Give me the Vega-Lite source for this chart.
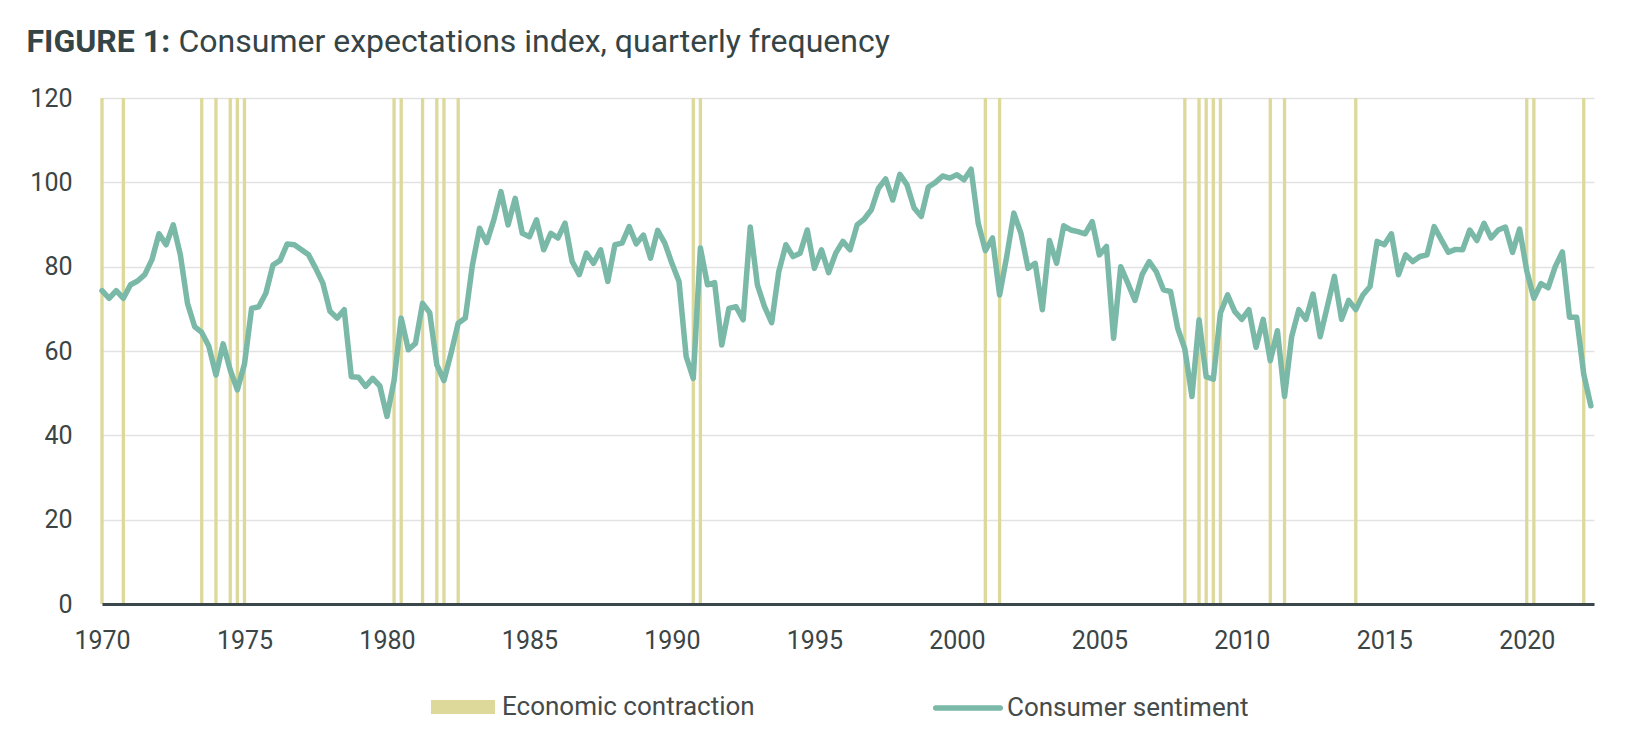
{
  "$schema": "https://vega.github.io/schema/vega-lite/v6.json",
  "width": 1492,
  "height": 506,
  "autosize": {"type": "none"},
  "padding": {"left": 102, "top": 98, "right": 50, "bottom": 130},
  "background": "white",
  "config": {"font": "Roboto", "view": {"stroke": null}},
  "datasets": {
    "contraction": [
      {"t": 1970}, {"t": 1970.75}, {"t": 1973.5}, {"t": 1974}, {"t": 1974.5}, {"t": 1974.75}, {"t": 1975},
      {"t": 1980.25}, {"t": 1980.5}, {"t": 1981.25}, {"t": 1981.75}, {"t": 1982}, {"t": 1982.5},
      {"t": 1990.75}, {"t": 1991}, {"t": 2001}, {"t": 2001.5},
      {"t": 2008}, {"t": 2008.5}, {"t": 2008.75}, {"t": 2009}, {"t": 2009.25},
      {"t": 2011}, {"t": 2011.5}, {"t": 2014}, {"t": 2020}, {"t": 2020.25}, {"t": 2022}
    ],
    "sentiment": [
      {"t": 1970, "v": 74.3}, {"t": 1970.25, "v": 72.5}, {"t": 1970.5, "v": 74.3}, {"t": 1970.75, "v": 72.5},
      {"t": 1971, "v": 75.7}, {"t": 1971.25, "v": 76.6}, {"t": 1971.5, "v": 78.1}, {"t": 1971.75, "v": 81.6},
      {"t": 1972, "v": 87.8}, {"t": 1972.25, "v": 85.2}, {"t": 1972.5, "v": 89.9}, {"t": 1972.75, "v": 82.8},
      {"t": 1973, "v": 71.3}, {"t": 1973.25, "v": 65.8}, {"t": 1973.5, "v": 64.4}, {"t": 1973.75, "v": 61.1},
      {"t": 1974, "v": 54.3}, {"t": 1974.25, "v": 61.7}, {"t": 1974.5, "v": 55.5}, {"t": 1974.75, "v": 50.8},
      {"t": 1975, "v": 56.9}, {"t": 1975.25, "v": 70.1}, {"t": 1975.5, "v": 70.5}, {"t": 1975.75, "v": 73.7},
      {"t": 1976, "v": 80.4}, {"t": 1976.25, "v": 81.5}, {"t": 1976.5, "v": 85.4}, {"t": 1976.75, "v": 85.2},
      {"t": 1977, "v": 84.0}, {"t": 1977.25, "v": 82.8}, {"t": 1977.5, "v": 79.6}, {"t": 1977.75, "v": 76.1},
      {"t": 1978, "v": 69.4}, {"t": 1978.25, "v": 67.8}, {"t": 1978.5, "v": 69.8}, {"t": 1978.75, "v": 53.9},
      {"t": 1979, "v": 53.8}, {"t": 1979.25, "v": 51.6}, {"t": 1979.5, "v": 53.5}, {"t": 1979.75, "v": 51.7},
      {"t": 1980, "v": 44.5}, {"t": 1980.25, "v": 53.0}, {"t": 1980.5, "v": 67.8}, {"t": 1980.75, "v": 60.3},
      {"t": 1981, "v": 61.8}, {"t": 1981.25, "v": 71.3}, {"t": 1981.5, "v": 69.1}, {"t": 1981.75, "v": 56.7},
      {"t": 1982, "v": 53.0}, {"t": 1982.25, "v": 59.5}, {"t": 1982.5, "v": 66.6}, {"t": 1982.75, "v": 67.8},
      {"t": 1983, "v": 80.4}, {"t": 1983.25, "v": 89.1}, {"t": 1983.5, "v": 85.7}, {"t": 1983.75, "v": 91.1},
      {"t": 1984, "v": 97.8}, {"t": 1984.25, "v": 89.9}, {"t": 1984.5, "v": 96.2}, {"t": 1984.75, "v": 87.9},
      {"t": 1985, "v": 87.1}, {"t": 1985.25, "v": 91.1}, {"t": 1985.5, "v": 84.0}, {"t": 1985.75, "v": 87.9},
      {"t": 1986, "v": 86.8}, {"t": 1986.25, "v": 90.3}, {"t": 1986.5, "v": 81.2}, {"t": 1986.75, "v": 78.1},
      {"t": 1987, "v": 83.2}, {"t": 1987.25, "v": 80.8}, {"t": 1987.5, "v": 84.0}, {"t": 1987.75, "v": 76.5},
      {"t": 1988, "v": 85.2}, {"t": 1988.25, "v": 85.6}, {"t": 1988.5, "v": 89.5}, {"t": 1988.75, "v": 85.4},
      {"t": 1989, "v": 87.5}, {"t": 1989.25, "v": 82.0}, {"t": 1989.5, "v": 88.6}, {"t": 1989.75, "v": 85.6},
      {"t": 1990, "v": 80.8}, {"t": 1990.25, "v": 76.5}, {"t": 1990.5, "v": 58.7}, {"t": 1990.75, "v": 53.5},
      {"t": 1991, "v": 84.4}, {"t": 1991.25, "v": 75.7}, {"t": 1991.5, "v": 76.2}, {"t": 1991.75, "v": 61.4},
      {"t": 1992, "v": 70.1}, {"t": 1992.25, "v": 70.5}, {"t": 1992.5, "v": 67.4}, {"t": 1992.75, "v": 89.4},
      {"t": 1993, "v": 75.7}, {"t": 1993.25, "v": 70.5}, {"t": 1993.5, "v": 66.7}, {"t": 1993.75, "v": 78.8},
      {"t": 1994, "v": 85.2}, {"t": 1994.25, "v": 82.4}, {"t": 1994.5, "v": 83.2}, {"t": 1994.75, "v": 88.7},
      {"t": 1995, "v": 79.6}, {"t": 1995.25, "v": 84.0}, {"t": 1995.5, "v": 78.6}, {"t": 1995.75, "v": 83.2},
      {"t": 1996, "v": 86.0}, {"t": 1996.25, "v": 84.0}, {"t": 1996.5, "v": 89.9}, {"t": 1996.75, "v": 91.3},
      {"t": 1997, "v": 93.5}, {"t": 1997.25, "v": 98.6}, {"t": 1997.5, "v": 100.8}, {"t": 1997.75, "v": 95.8},
      {"t": 1998, "v": 101.9}, {"t": 1998.25, "v": 99.4}, {"t": 1998.5, "v": 93.9}, {"t": 1998.75, "v": 91.9},
      {"t": 1999, "v": 98.9}, {"t": 1999.25, "v": 100.0}, {"t": 1999.5, "v": 101.5}, {"t": 1999.75, "v": 101.0},
      {"t": 2000, "v": 101.8}, {"t": 2000.25, "v": 100.6}, {"t": 2000.5, "v": 103.1}, {"t": 2000.75, "v": 90.3},
      {"t": 2001, "v": 83.8}, {"t": 2001.25, "v": 86.8}, {"t": 2001.5, "v": 73.3}, {"t": 2001.75, "v": 82.4},
      {"t": 2002, "v": 92.7}, {"t": 2002.25, "v": 87.9}, {"t": 2002.5, "v": 79.6}, {"t": 2002.75, "v": 80.8},
      {"t": 2003, "v": 69.8}, {"t": 2003.25, "v": 86.2}, {"t": 2003.5, "v": 80.8}, {"t": 2003.75, "v": 89.7},
      {"t": 2004, "v": 88.7}, {"t": 2004.25, "v": 88.3}, {"t": 2004.5, "v": 87.8}, {"t": 2004.75, "v": 90.7},
      {"t": 2005, "v": 82.8}, {"t": 2005.25, "v": 84.8}, {"t": 2005.5, "v": 63.0}, {"t": 2005.75, "v": 80.0},
      {"t": 2006, "v": 76.1}, {"t": 2006.25, "v": 72.0}, {"t": 2006.5, "v": 78.1}, {"t": 2006.75, "v": 81.2},
      {"t": 2007, "v": 78.8}, {"t": 2007.25, "v": 74.5}, {"t": 2007.5, "v": 74.1}, {"t": 2007.75, "v": 65.4},
      {"t": 2008, "v": 60.5}, {"t": 2008.25, "v": 49.2}, {"t": 2008.5, "v": 67.4}, {"t": 2008.75, "v": 53.9},
      {"t": 2009, "v": 53.3}, {"t": 2009.25, "v": 69.0}, {"t": 2009.5, "v": 73.3}, {"t": 2009.75, "v": 69.4},
      {"t": 2010, "v": 67.5}, {"t": 2010.25, "v": 69.8}, {"t": 2010.5, "v": 60.9}, {"t": 2010.75, "v": 67.5},
      {"t": 2011, "v": 57.7}, {"t": 2011.25, "v": 64.8}, {"t": 2011.5, "v": 49.2}, {"t": 2011.75, "v": 63.4},
      {"t": 2012, "v": 69.8}, {"t": 2012.25, "v": 67.5}, {"t": 2012.5, "v": 73.5}, {"t": 2012.75, "v": 63.4},
      {"t": 2013, "v": 70.5}, {"t": 2013.25, "v": 77.7}, {"t": 2013.5, "v": 67.5}, {"t": 2013.75, "v": 72.0},
      {"t": 2014, "v": 69.8}, {"t": 2014.25, "v": 73.3}, {"t": 2014.5, "v": 75.3}, {"t": 2014.75, "v": 86.0},
      {"t": 2015, "v": 85.2}, {"t": 2015.25, "v": 87.8}, {"t": 2015.5, "v": 78.1}, {"t": 2015.75, "v": 82.8},
      {"t": 2016, "v": 81.2}, {"t": 2016.25, "v": 82.4}, {"t": 2016.5, "v": 82.8}, {"t": 2016.75, "v": 89.5},
      {"t": 2017, "v": 86.4}, {"t": 2017.25, "v": 83.4}, {"t": 2017.5, "v": 84.1}, {"t": 2017.75, "v": 84.0},
      {"t": 2018, "v": 88.7}, {"t": 2018.25, "v": 86.2}, {"t": 2018.5, "v": 90.3}, {"t": 2018.75, "v": 86.8},
      {"t": 2019, "v": 88.7}, {"t": 2019.25, "v": 89.4}, {"t": 2019.5, "v": 83.4}, {"t": 2019.75, "v": 88.9},
      {"t": 2020, "v": 79.0}, {"t": 2020.25, "v": 72.5}, {"t": 2020.5, "v": 76.0}, {"t": 2020.75, "v": 75.0},
      {"t": 2021, "v": 80.0}, {"t": 2021.25, "v": 83.5}, {"t": 2021.5, "v": 68.0}, {"t": 2021.75, "v": 68.0},
      {"t": 2022, "v": 54.5}, {"t": 2022.25, "v": 47.0}
    ]
  },
  "encoding": {
    "x": {
      "field": "t",
      "type": "quantitative",
      "scale": {"domain": [1970, 2022.36], "nice": false, "zero": false},
      "axis": {
        "values": [1970, 1975, 1980, 1985, 1990, 1995, 2000, 2005, 2010, 2015, 2020],
        "format": "d",
        "grid": false,
        "ticks": false,
        "domainColor": "#3b474a",
        "domainWidth": 3,
        "labelFontSize": 25,
        "labelColor": "#3b4545",
        "labelPadding": 24,
        "labelFlush": false,
        "zindex": 1,
        "title": "Consumer expectations index, quarterly frequency",
        "titleAngle": 0,
        "titleAlign": "left",
        "titleBaseline": "alphabetic",
        "titleX": 76,
        "titleY": -553,
        "titleFontSize": 32,
        "titleFontWeight": "normal",
        "titleColor": "#354446",
        "titleLimit": 2000
      }
    }
  },
  "layer": [
    {
      "data": {"name": "contraction"},
      "mark": {"type": "rule", "strokeWidth": 3.3},
      "encoding": {
        "y": {
          "datum": 0,
          "type": "quantitative",
          "scale": {"domain": [0, 120], "nice": false},
          "axis": {
            "values": [0, 20, 40, 60, 80, 100, 120],
            "grid": true,
            "gridColor": "#e2e2e2",
            "gridWidth": 1.5,
            "domain": false,
            "ticks": false,
            "labelFontSize": 25,
            "labelColor": "#3b4545",
            "labelPadding": 30,
            "title": "FIGURE 1:",
            "titleAngle": 0,
            "titleAlign": "left",
            "titleBaseline": "alphabetic",
            "titleX": -76,
            "titleY": -47,
            "titleFontSize": 32,
            "titleFontWeight": "bold",
            "titleColor": "#354446",
            "titleLimit": 2000
          }
        },
        "y2": {"datum": 120},
        "color": {
          "datum": "Economic contraction",
          "type": "nominal",
          "scale": {"domain": ["Economic contraction", "Consumer sentiment"], "range": ["#dcd99b", "#7ab8a8"]},
          "legend": {
            "orient": "none",
            "legendX": 326,
            "legendY": 574,
            "direction": "horizontal",
            "columns": 2,
            "columnPadding": 170,
            "padding": 0,
            "title": null,
            "labelFontSize": 26,
            "labelColor": "#454a4a",
            "labelLimit": 600,
            "labelOffset": 4,
            "symbolSize": 4186,
            "symbolStrokeWidth": 5.3,
            "encode": {
              "symbols": {
                "update": {
                  "shape": {"signal": "datum.value === 'Economic contraction' ? 'M-0.907,-0.134H0.907V0.134H-0.907Z' : 'stroke'"},
                  "fill": {"signal": "datum.value === 'Economic contraction' ? '#dcd99b' : '#7ab8a8'"},
                  "stroke": {"signal": "datum.value === 'Economic contraction' ? '#dcd99b' : '#7ab8a8'"},
                  "strokeCap": {"value": "round"},
                  "opacity": {"value": 1}
                }
              }
            }
          }
        }
      }
    },
    {
      "data": {"name": "sentiment"},
      "mark": {"type": "line", "strokeWidth": 5.5, "strokeJoin": "round", "strokeCap": "round"},
      "encoding": {
        "y": {
          "field": "v",
          "type": "quantitative",
          "scale": {"domain": [0, 120], "nice": false},
          "axis": {
            "values": [0, 20, 40, 60, 80, 100, 120],
            "grid": true,
            "gridColor": "#e2e2e2",
            "gridWidth": 1.5,
            "domain": false,
            "ticks": false,
            "labelFontSize": 25,
            "labelColor": "#3b4545",
            "labelPadding": 30,
            "title": "FIGURE 1:",
            "titleAngle": 0,
            "titleAlign": "left",
            "titleBaseline": "alphabetic",
            "titleX": -76,
            "titleY": -47,
            "titleFontSize": 32,
            "titleFontWeight": "bold",
            "titleColor": "#354446",
            "titleLimit": 2000
          }
        },
        "color": {"datum": "Consumer sentiment", "type": "nominal"}
      }
    }
  ]
}
